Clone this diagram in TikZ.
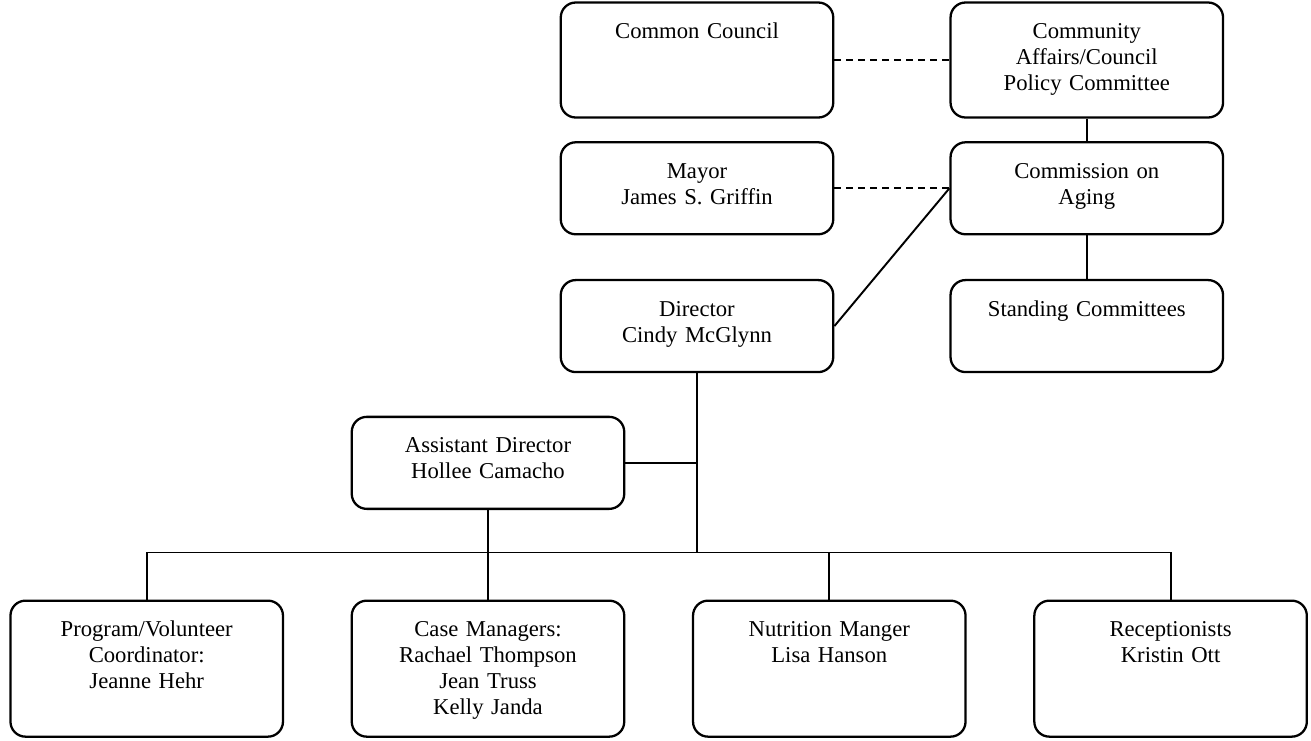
\documentclass[tikz,border=0pt]{standalone}
\usepackage{fontspec}
\setmainfont{Liberation Serif}
\usepackage{tikz}
\usetikzlibrary{positioning}

\begin{document}
\begin{tikzpicture}[
    box/.style={rectangle, draw=black, line width=1.3pt, rounded corners=0.3cm, text width=5.11cm, inner xsep=0.17cm, inner ysep=0.36cm, text height=0.36cm, text depth=#1, align=center, font=\fontsize{12.9}{14.8}\selectfont},
    link/.style={draw=black, line width=1.1pt},
    dotlink/.style={link, dash pattern=on 0.14cm off 0.1cm}
]
    \useasboundingbox (0,0) rectangle (26.22,-14.8);

    % Council side
    \node[box=1.22cm] (Common)     at (13.94,-1.2)           {Common Council};
    \node[box=1.22cm] (Community)  [right=2.3cm of Common]   {Community\\Affairs/Council\\Policy Committee};
    \node[box=0.76cm] (Mayor)      [below=0.45cm of Common]  {Mayor\\James S. Griffin};
    \node[box=0.76cm] (Commission) [below=0.45cm of Community] {Commission on\\Aging};
    \node[box=0.76cm] (Director)   [below=0.87cm of Mayor]   {Director\\Cindy McGlynn};
    \node[box=0.76cm] (Standing)   [below=0.87cm of Commission] {Standing Committees};

    % Staff
    \node[box=0.76cm] (Assistant)  [below=0.85cm of Director, xshift=-4.18cm] {Assistant Director\\Hollee Camacho};
    \node[box=1.64cm] (Case)       [below=1.79cm of Assistant] {Case Managers:\\Rachael Thompson\\Jean Truss\\Kelly Janda};
    \node[box=1.64cm] (Program)    [left=1.33cm of Case]     {Program/Volunteer\\Coordinator:\\Jeanne Hehr};
    \node[box=1.64cm] (Nutrition)  [right=1.33cm of Case]    {Nutrition Manger\\Lisa Hanson};
    \node[box=1.64cm] (Reception)  [right=1.33cm of Nutrition] {Receptionists\\Kristin Ott};

    \coordinate[above=0.94cm of Case.north] (bus);

    % Upper links
    \draw[dotlink] (Common.east) -- (Community.west);
    \draw[dotlink] (Mayor.east) -- (Commission.west);
    \draw[link] (Community) -- (Commission);
    \draw[link] (Commission) -- (Standing);
    \draw[link] (Director.east) -- (Commission.west);

    % Staff links
    \draw[link] (Director.south) -- (Director.south |- bus);
    \draw[link] (Assistant.east) -- (Assistant.east -| Director.south);
    \draw[link] (Assistant.south) -- (Case.north);
    \draw[link] (Program.north) |- (bus) -| (Reception.north);
    \draw[link] (Nutrition.north) -- (Nutrition.north |- bus);

\end{tikzpicture}
\end{document}
